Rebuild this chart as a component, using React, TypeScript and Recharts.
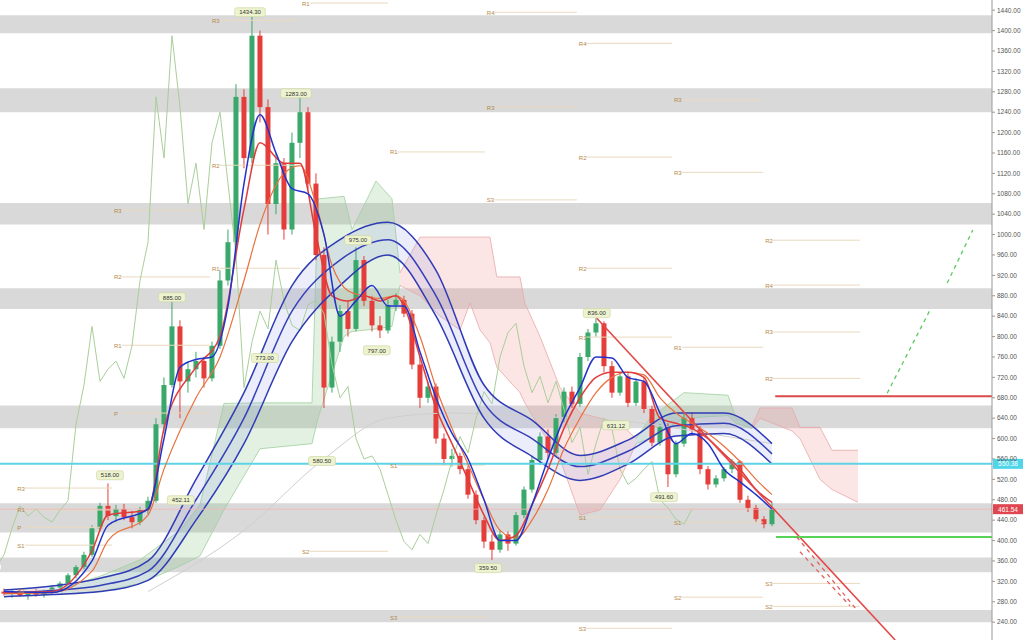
import React from "react";
import {
  ComposedChart,
  Bar,
  Line,
  Area,
  XAxis,
  YAxis,
  ReferenceArea,
  ReferenceLine,
  ReferenceDot,
} from "recharts";

// daily candles
const opens = [300, 296, 300, 292, 298, 294, 301, 308, 316, 332, 348, 372, 424, 468, 448, 462, 446, 436, 460, 478, 628, 705, 820, 712, 736, 752, 718, 782, 910, 985, 1270, 1150, 1390, 1250, 1060, 1140, 1010, 1180, 1240, 1100, 960, 700, 790, 850, 815, 950, 870, 822, 812, 862, 872, 845, 745, 680, 702, 600, 560, 566, 540, 490, 440, 398, 382, 412, 394, 450, 500, 558, 604, 572, 640, 692, 668, 760, 808, 826, 742, 690, 722, 670, 712, 658, 592, 622, 530, 590, 640, 618, 540, 510, 522, 540, 555, 480, 464, 442, 432];
const highs = [306, 303, 305, 300, 306, 304, 312, 320, 336, 352, 378, 430, 474, 512, 470, 472, 458, 466, 486, 640, 720, 868, 832, 752, 770, 760, 790, 930, 1010, 1295, 1285, 1434, 1400, 1265, 1160, 1150, 1200, 1283, 1250, 1120, 975, 800, 862, 870, 975, 958, 880, 840, 872, 885, 880, 852, 760, 712, 708, 610, 580, 572, 548, 498, 446, 412, 420, 418, 456, 506, 566, 612, 618, 648, 700, 702, 768, 815, 836, 830, 752, 730, 728, 718, 720, 664, 628, 630, 596, 648, 652, 624, 546, 528, 544, 560, 558, 488, 470, 448, 475];
const lows = [292, 288, 290, 284, 290, 288, 296, 302, 312, 326, 344, 368, 418, 440, 436, 440, 424, 430, 452, 474, 610, 700, 640, 690, 720, 700, 712, 776, 900, 975, 1130, 1140, 1220, 1000, 1040, 990, 1000, 1150, 1090, 950, 660, 690, 770, 800, 810, 860, 810, 797, 806, 850, 838, 736, 660, 670, 590, 548, 545, 530, 482, 432, 385, 362, 376, 380, 390, 444, 494, 548, 560, 566, 632, 660, 662, 752, 800, 730, 680, 684, 662, 664, 650, 585, 586, 505, 524, 584, 610, 530, 500, 504, 516, 532, 474, 456, 436, 424, 428];
const closes = [296, 300, 292, 298, 294, 301, 308, 316, 332, 348, 372, 424, 468, 448, 462, 446, 436, 460, 478, 628, 705, 820, 712, 736, 752, 718, 782, 910, 985, 1270, 1150, 1390, 1250, 1060, 1140, 1010, 1180, 1240, 1100, 960, 700, 790, 850, 815, 950, 870, 822, 812, 862, 872, 845, 745, 680, 702, 600, 560, 566, 540, 490, 440, 398, 382, 412, 394, 450, 500, 558, 604, 572, 640, 692, 668, 760, 808, 826, 742, 690, 722, 670, 712, 658, 592, 622, 530, 590, 640, 618, 540, 510, 522, 540, 555, 480, 464, 442, 432, 461.54];

const priceTicks = [240, 280, 320, 360, 400, 440, 480, 520, 560, 600, 640, 680, 720, 760, 800, 840, 880, 920, 960, 1000, 1040, 1080, 1120, 1160, 1200, 1240, 1280, 1320, 1360, 1400, 1440];

// grey supply / demand zones
const zoneLow = [1395, 1240, 1020, 854, 620, 416, 338, 240];
const zoneHigh = [1430, 1287, 1062, 895, 665, 473, 367, 264];

// slow ribbon (three blue lines)
const ribbonAt = [0, 6, 12, 18, 24, 30, 36, 42, 48, 54, 60, 66, 72, 78, 84, 90, 96];
const ribbonUpper = [303, 311, 326, 360, 520, 690, 900, 990, 1024, 930, 705, 636, 567, 597, 650, 650, 590];
const ribbonMid = [296, 302, 312, 340, 480, 640, 850, 950, 990, 880, 670, 600, 545, 575, 625, 630, 570];
const ribbonLower = [290, 294, 300, 322, 440, 590, 790, 900, 960, 840, 640, 565, 518, 550, 605, 610, 550];

// fast red / orange averages
const redAt = [0, 6, 11, 13, 18, 20, 24, 27, 30, 32, 35, 37, 39, 41, 43, 45, 47, 49, 50, 52, 54, 56, 58, 60, 62, 64, 66, 68, 70, 72, 74, 76, 78, 80, 82, 84, 86, 88, 90, 92, 94, 96];
const redFast = [298, 300, 380, 450, 460, 620, 740, 800, 1050, 1180, 1140, 1140, 1000, 880, 870, 880, 870, 880, 860, 760, 660, 590, 520, 450, 400, 410, 470, 540, 620, 680, 720, 730, 730, 720, 640, 630, 620, 600, 570, 540, 500, 475];
const redSlow = [296, 298, 340, 400, 450, 540, 680, 760, 910, 1020, 1120, 1135, 1060, 940, 890, 880, 875, 880, 870, 800, 700, 620, 550, 480, 420, 405, 440, 500, 580, 640, 690, 720, 730, 725, 680, 650, 630, 610, 585, 555, 520, 490];

// fast blue average
const blueAt = [0, 6, 11, 13, 18, 20, 22, 24, 26, 28, 30, 32, 34, 36, 38, 40, 42, 44, 46, 48, 50, 52, 54, 56, 58, 60, 62, 64, 66, 68, 70, 72, 74, 76, 78, 80, 82, 84, 86, 88, 90, 92, 94, 96];
const blueFast = [300, 298, 360, 430, 462, 600, 740, 755, 760, 860, 1100, 1235, 1160, 1090, 1080, 1000, 840, 870, 900, 860, 860, 770, 680, 610, 560, 480, 400, 400, 470, 560, 640, 700, 760, 758, 720, 712, 650, 590, 610, 590, 540, 515, 490, 462];

// lagging line: closes drawn this many candles back
const lagCandles = 10;

// ichimoku cloud, null = break between parts
const bullCloudAt = [7, 12, 17, 22, 24.5, 27.5, 32, 38.5, 39.25, 42.5, 43.5, 46.5, 48.5, 49.5, 64, 79, 80.75, 85, 90.5, 91.5, 93.5];
const bullCloudTop = [305, 330, 362, 420, 470, 669, 670, 670, 1070, 1075, 1010, 1105, 1070, 925, null, 600, 640, 690, 685, 640, 625];
const bullCloudBottom = [295, 300, 316, 350, 370, 460, 580, 590, 640, 800, 810, 815, 820, 900, null, 590, 600, 640, 645, 630, 620];
const bearCloudAt = [49.5, 52, 54.5, 57, 58.25, 59.5, 60.75, 61.6, 64.5, 65.1, 67, 69.5, 72, 74.5, 77, 79, 86, 93.5, 94.5, 98.5, 99.5, 102, 103.5, 106.75];
const bearCloudTop = [925, 995, 995, 995, 995, 995, 995, 917, 917, 866, 800, 700, 650, 640, 630, 600, null, 625, 660, 660, 622, 622, 577, 577];
const bearCloudBottom = [900, 880, 840, 813, 866, 813, 788, 740, 690, 670, 620, 560, 450, 460, 520, 590, null, 620, 640, 615, 600, 520, 500, 475];

// long grey average
const slowAt = [18, 30, 40, 48, 56, 64, 72, 80, 88, 96];
const slowLine = [300, 420, 560, 640, 650, 645, 640, 630, 610, 590];

// swing labels
const swingText = ["518.00", "885.00", "452.11", "1434.30", "773.00", "1283.00", "580.50", "975.00", "797.00", "359.50", "836.00", "631.12", "491.60"];
const swingAt = [13.25, 21, 22.1, 30.75, 32.6, 36.5, 39.75, 44.25, 46.6, 60.5, 74.1, 76.5, 82.5];
const swingPrice = [528, 877, 479, 1436, 758, 1277, 556, 989, 773, 346, 846, 626, 485];

// pivot levels per period
const pivotName = ["R3", "R1", "P", "S1", "S2", "R3", "R2", "R1", "P", "R3", "R2", "R1", "R1", "S2", "R1", "S1", "S3", "R4", "R3", "S3", "R4", "R2", "R2", "R1", "S1", "S3", "R3", "R3", "R1", "S1", "S2", "R2", "R4", "R3", "R2", "S3", "S2"];
const pivotLevel = [503, 460, 426, 391, 303, 1048, 917, 783, 650, 1420, 1136, 934, 1454, 379, 1162, 548, 250, 1436, 1250, 1068, 1375, 1152, 934, 799, 446, 228, 1264, 1122, 779, 436, 289, 989, 901, 809, 718, 316, 271];
const pivotFrom = [1.4, 1.4, 1.4, 1.4, 1.4, 13.5, 13.5, 13.5, 13.5, 25.75, 25.75, 25.75, 37, 37, 48, 48, 48, 60.1, 60.1, 60.1, 71.6, 71.6, 71.6, 71.6, 71.6, 71.6, 83.5, 83.5, 83.5, 83.5, 83.5, 94.9, 94.9, 94.9, 94.9, 94.9, 94.9];
const pivotTo = [13.5, 13.5, 13.5, 13.5, 13.5, 25.75, 25.75, 25.75, 25.75, 37, 37, 37, 48, 48, 60.1, 60.1, 60.1, 71.6, 71.6, 71.6, 83.5, 83.5, 83.5, 83.5, 83.5, 83.5, 94.9, 94.9, 94.9, 94.9, 94.9, 107, 107, 107, 107, 107, 107];

const lastPrice = 461.54;
const cyanLevel = 550.38;
const redLevel = 683;
const greenLevel = 407;

const candles = closes.map((c, i) => ({ x: i, o: opens[i], h: highs[i], l: lows[i], c }));
const toRows = (at: number[], vals: (number | null)[]) => at.map((x, i) => ({ x, v: vals[i] }));
const ribbonRows = ribbonAt.map((x, i) => ({ x, u: ribbonUpper[i], m: ribbonMid[i], lo: ribbonLower[i] }));
const lagRows = closes.map((c, i) => ({ x: i - lagCandles, v: c }));
const bullRows = bullCloudAt.map((x, i) => ({ x, t: bullCloudTop[i], b: bullCloudBottom[i] }));
const bearRows = bearCloudAt.map((x, i) => ({ x, t: bearCloudTop[i], b: bearCloudBottom[i] }));

const Candle = (props: any) => {
  const { x, y, width, height, payload } = props;
  if (!payload || x == null || y == null) return null;
  const top = Math.min(y, y + height);
  const bottom = Math.max(y, y + height);
  const span = payload.h - payload.l || 1;
  const toPx = (v: number) => top + ((payload.h - v) / span) * (bottom - top);
  const up = payload.c >= payload.o;
  const color = up ? "#3aa86a" : "#e43d3a";
  const bTop = toPx(Math.max(payload.o, payload.c));
  const bBot = toPx(Math.min(payload.o, payload.c));
  const cx = x + (width || 0) / 2;
  const bw = 5;
  return (
    <g>
      <line x1={cx} x2={cx} y1={top} y2={bottom} stroke={color} strokeWidth={1} />
      <rect x={cx - bw / 2} y={bTop} width={bw} height={Math.max(1.5, bBot - bTop)} fill={color} />
    </g>
  );
};

const swingTag = (text: string) => (p: any) => {
  const w = text.length * 3.8 + 4;
  return (
    <g>
      <rect x={p.cx - w / 2} y={p.cy - 4.5} width={w} height={9} rx={2} fill="#eef3cf" stroke="#c9d39a" strokeWidth={0.6} />
      <text x={p.cx} y={p.cy + 2.2} textAnchor="middle" fontSize={6} fill="#333">{text}</text>
    </g>
  );
};

const pivotTag = (text: string) => (p: any) => (
  <text x={p.cx + 2} y={p.cy + 2.5} fontSize={6} fill="#b5894a">{text}</text>
);

const axisTag = (text: string, color: string) => (p: any) => (
  <g>
    <rect x={p.cx + 1} y={p.cy - 5} width={30} height={10} fill={color} />
    <text x={p.cx + 16} y={p.cy + 2.5} textAnchor="middle" fontSize={6.5} fill="#fff">{text}</text>
  </g>
);

export default function App() {
  return (
    <div style={{ position: "absolute", left: 0, top: 0, width: 1024, height: 640, background: "#fff", fontFamily: "'Liberation Sans', Arial, sans-serif" }}>
      <ComposedChart width={1024} height={640} data={candles} margin={{ top: 0, right: 0, bottom: 0, left: 0 }}>
        <XAxis type="number" dataKey="x" domain={[-0.5, 123.5]} hide allowDataOverflow />
        <YAxis
          orientation="right"
          width={32}
          domain={[205, 1460]}
          ticks={priceTicks}
          interval={0}
          allowDataOverflow
          tickFormatter={(v: number) => v.toFixed(2)}
          tick={{ fontSize: 6.5, fill: "#555" }}
          tickSize={3}
          axisLine={{ stroke: "#999" }}
          tickLine={{ stroke: "#999" }}
        />

        {zoneLow.map((lo, i) => (
          <ReferenceArea key={"z" + i} y1={lo} y2={zoneHigh[i]} x1={-0.5} x2={123.5} fill="#000" fillOpacity={0.15} stroke="none" ifOverflow="hidden" />
        ))}

        {pivotName.map((n, i) => (
          <ReferenceLine key={"pl" + i} segment={[{ x: pivotFrom[i] + 1.2, y: pivotLevel[i] }, { x: pivotTo[i], y: pivotLevel[i] }]} stroke="#ead9bd" strokeWidth={1} ifOverflow="hidden" />
        ))}
        {pivotName.map((n, i) => (
          <ReferenceDot key={"pt" + i} x={pivotFrom[i]} y={pivotLevel[i]} r={0} shape={pivotTag(n)} ifOverflow="hidden" />
        ))}

        <Area data={bullRows} dataKey={(d: any) => (d.t == null ? null : [d.b, d.t])} type="linear" stroke="#9fcf9f" strokeWidth={0.8} fill="#7cc07c" fillOpacity={0.22} isAnimationActive={false} connectNulls={false} />
        <Area data={bearRows} dataKey={(d: any) => (d.t == null ? null : [d.b, d.t])} type="linear" stroke="#e7a8a8" strokeWidth={0.8} fill="#f08a8a" fillOpacity={0.22} isAnimationActive={false} connectNulls={false} />

        <Line data={toRows(slowAt, slowLine)} dataKey="v" type="monotone" stroke="#cfcfcf" strokeWidth={1} dot={false} isAnimationActive={false} />
        <Line data={lagRows} dataKey="v" type="linear" stroke="#a9cf9a" strokeWidth={1} dot={false} isAnimationActive={false} />

        <Area data={ribbonRows} dataKey={(d: any) => [d.lo, d.u]} type="monotone" stroke="none" fill="#8f9be6" fillOpacity={0.18} isAnimationActive={false} />
        <Line data={ribbonRows} dataKey="u" type="monotone" stroke="#2f3cb5" strokeWidth={1.5} dot={false} isAnimationActive={false} />
        <Line data={ribbonRows} dataKey="m" type="monotone" stroke="#3440b8" strokeWidth={1.5} dot={false} isAnimationActive={false} />
        <Line data={ribbonRows} dataKey="lo" type="monotone" stroke="#2f3cb5" strokeWidth={1.5} dot={false} isAnimationActive={false} />

        <ReferenceLine y={cyanLevel} stroke="#5fd3e6" strokeWidth={2} ifOverflow="hidden" />
        <ReferenceLine y={lastPrice} stroke="#f2b8b8" strokeWidth={0.8} ifOverflow="hidden" />

        <Bar dataKey={(d: any) => [d.l, d.h]} barSize={5} shape={Candle} isAnimationActive={false} />

        <Line data={toRows(redAt, redSlow)} dataKey="v" type="monotone" stroke="#e8703e" strokeWidth={1.2} dot={false} isAnimationActive={false} />
        <Line data={toRows(redAt, redFast)} dataKey="v" type="monotone" stroke="#e03c3c" strokeWidth={1.5} dot={false} isAnimationActive={false} />
        <Line data={toRows(blueAt, blueFast)} dataKey="v" type="monotone" stroke="#2233cc" strokeWidth={1.5} dot={false} isAnimationActive={false} />

        <ReferenceLine segment={[{ x: 74.1, y: 836 }, { x: 111.4, y: 205 }]} stroke="#e34848" strokeWidth={1.6} ifOverflow="hidden" />
        <ReferenceLine segment={[{ x: 96.4, y: redLevel }, { x: 123.5, y: redLevel }]} stroke="#d94a4a" strokeWidth={2} ifOverflow="hidden" />
        <ReferenceLine segment={[{ x: 96.5, y: greenLevel }, { x: 123.5, y: greenLevel }]} stroke="#57d357" strokeWidth={2} ifOverflow="hidden" />
        <ReferenceLine segment={[{ x: 110.4, y: 689 }, { x: 115.75, y: 852 }]} stroke="#5cc95c" strokeWidth={1.3} strokeDasharray="4 4" ifOverflow="hidden" />
        <ReferenceLine segment={[{ x: 117.9, y: 905 }, { x: 121.1, y: 1009 }]} stroke="#5cc95c" strokeWidth={1.3} strokeDasharray="4 4" ifOverflow="hidden" />
        <ReferenceLine segment={[{ x: 99.1, y: 407 }, { x: 106.6, y: 264 }]} stroke="#e06060" strokeWidth={1.3} strokeDasharray="4 4" ifOverflow="hidden" />
        <ReferenceLine segment={[{ x: 99.5, y: 378 }, { x: 105.75, y: 272 }]} stroke="#e06060" strokeWidth={1.3} strokeDasharray="4 4" ifOverflow="hidden" />

        {swingText.map((t, i) => (
          <ReferenceDot key={"s" + i} x={swingAt[i]} y={swingPrice[i]} r={0} shape={swingTag(t)} ifOverflow="visible" />
        ))}

        <ReferenceDot x={123.5} y={cyanLevel} r={0} shape={axisTag(cyanLevel.toFixed(2), "#4fd6e8")} ifOverflow="visible" />
        <ReferenceDot x={123.5} y={lastPrice} r={0} shape={axisTag(lastPrice.toFixed(2), "#e0464f")} ifOverflow="visible" />
      </ComposedChart>
    </div>
  );
}
